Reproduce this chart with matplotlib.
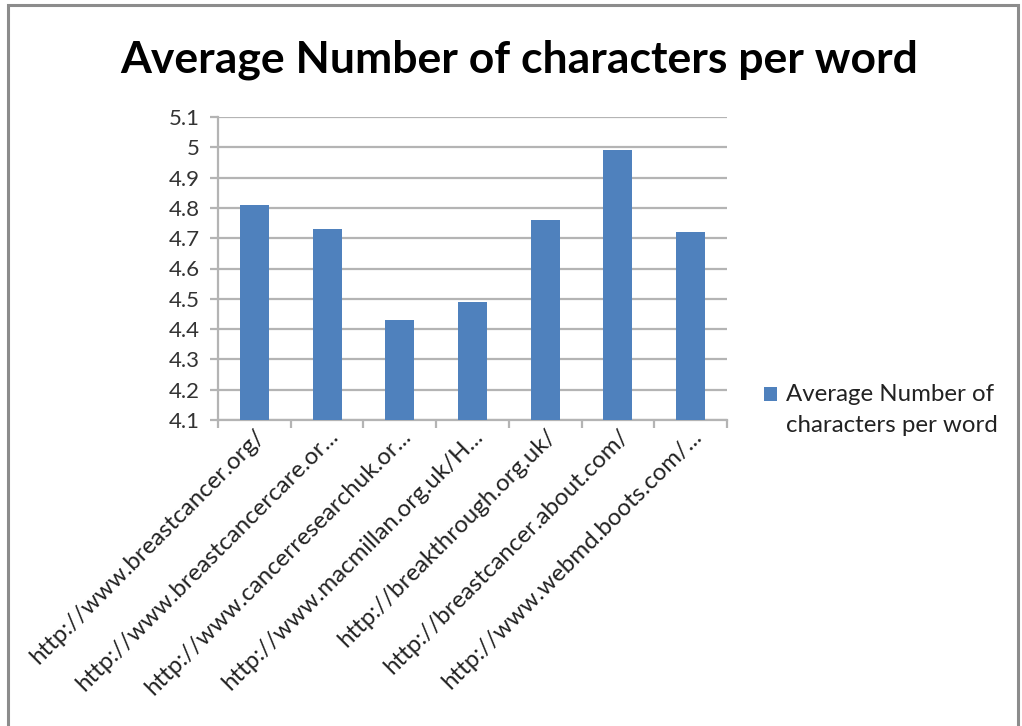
import numpy as np
import matplotlib
matplotlib.use("Agg")
import matplotlib.pyplot as plt
from matplotlib.patches import Rectangle
from matplotlib.transforms import ScaledTranslation

plt.rcParams['font.family'] = ['Lato', 'DejaVu Sans']

# data
sites = [
    "http://www.breastcancer.org/",
    "http://www.breastcancercare.or...",
    "http://www.cancerresearchuk.or...",
    "http://www.macmillan.org.uk/H...",
    "http://breakthrough.org.uk/",
    "http://breastcancer.about.com/",
    "http://www.webmd.boots.com/...",
]
avg_chars = [4.81, 4.73, 4.43, 4.49, 4.76, 4.99, 4.72]
series_name = "Average Number of\ncharacters per word"
title = "Average Number of characters per word"
y_ticks = [4.1, 4.2, 4.3, 4.4, 4.5, 4.6, 4.7, 4.8, 4.9, 5.0, 5.1]

bar_color = "#4F81BD"
grid_color = "#B4B4B4"

fig = plt.figure(figsize=(10.22, 7.26), dpi=100)
ax = fig.add_axes([218 / 1022, 1 - 420 / 726, (727 - 218) / 1022, (420 - 117) / 726])

x = np.arange(len(sites))
ax.bar(x, np.array(avg_chars) - 4.1, bottom=4.1, width=0.4, color=bar_color,
       label=series_name, zorder=3)

ax.set_xlim(-0.5, len(sites) - 0.5)
ax.set_ylim(4.1, 5.1)
ax.set_yticks(y_ticks)
ax.set_yticklabels([f"{v:g}" for v in y_ticks], fontsize=16, color="#333333")
ax.yaxis.grid(True, color=grid_color, linewidth=1.6, zorder=0)

# category boundary ticks
ax.set_xticks(np.arange(-0.5, len(sites)), minor=True)
ax.set_xticks(x)
ax.set_xticklabels(sites, rotation=45, ha='right', va='top',
                   rotation_mode='anchor', fontsize=17.3, color="#222222")
for lab in ax.get_xticklabels():
    lab.set_transform(lab.get_transform() + ScaledTranslation(0.12, -0.05, fig.dpi_scale_trans))
ax.tick_params(axis='x', which='major', length=0, pad=4)
ax.tick_params(axis='x', which='minor', length=6, color=grid_color, width=1.6)
ax.tick_params(axis='y', length=6, color=grid_color, width=1.6, pad=7)

for side in ['top', 'right']:
    ax.spines[side].set_visible(False)
for side in ['left', 'bottom']:
    ax.spines[side].set_color(grid_color)
    ax.spines[side].set_linewidth(1.6)

fig.text(519 / 1022, 1 - 60 / 726, title, ha='center', va='center',
         fontsize=32, fontweight='bold', color="#000000")

leg = fig.legend(loc='center left', bbox_to_anchor=(742 / 1022, 1 - 410 / 726),
                 frameon=False, fontsize=17.3, handlelength=0.55, handleheight=0.55,
                 handletextpad=0.4, labelspacing=0.3)
for t in leg.get_texts():
    t.set_linespacing(1.55)
    t.set_color("#222222")
# put the swatch next to the first text line, as Excel does
for h in leg.legend_handles:
    h.set_y(h.get_y() + 11.5)

# outer chart-area border
fig.patches.append(Rectangle((8 / 1022, -0.05), (1018 - 8) / 1022, 1 - 5 / 726 + 0.05,
                             transform=fig.transFigure, fill=False,
                             edgecolor="#8C8C8C", linewidth=2.2))

fig.savefig("out.png", dpi=100)
